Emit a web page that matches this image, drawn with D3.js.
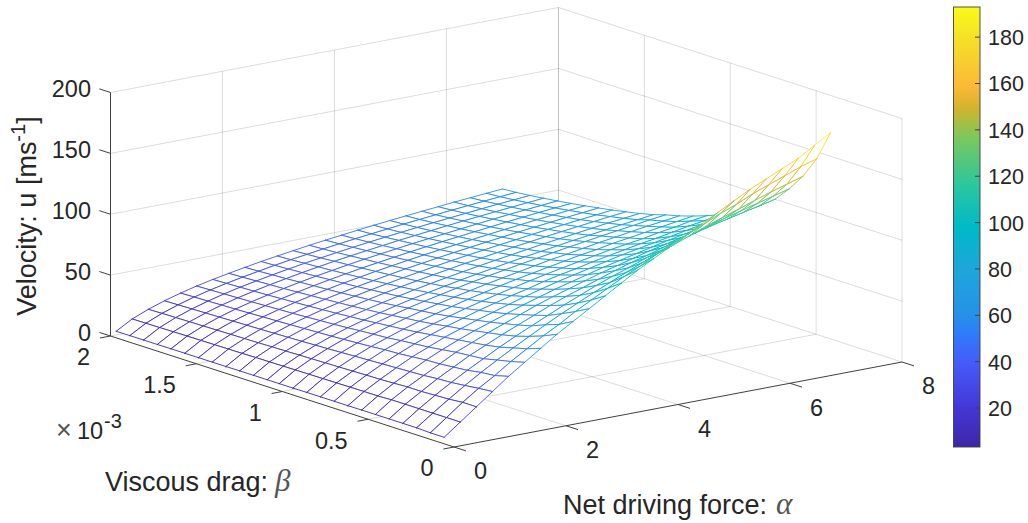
<!DOCTYPE html>
<html><head><meta charset="utf-8">
<script src="https://cdn.jsdelivr.net/npm/d3@7"></script>
<style>html,body{margin:0;background:#fff}svg{display:block}text{font-family:"Liberation Sans",Arial,sans-serif;fill:#262626}</style>
</head><body><svg id="c" width="1028" height="523"></svg>
<script>
// surface samples
const alphaValues=[0.1,0.3875,0.675,0.9625,1.25,1.5375,1.825,2.1125,2.4,2.6875,2.975,3.2625,3.55,3.8375,4.125,4.4125,4.7,4.9875,5.275,5.5625,5.85,6.1375,6.425,6.7125,7];
const betaValues=[0.09,0.17,0.25,0.33,0.41,0.49,0.57,0.65,0.73,0.81,0.89,0.97,1.05,1.12,1.20,1.28,1.36,1.44,1.52,1.60,1.68,1.76,1.84,1.92,2.0];
const velocityRows=[
[3,13,23,33,43,52,61,70,78,86,94,102,110,117,124,131,138,145,152,159,165,171,177,185,193],
[3,13,23,32,40,49,57,65,72,80,87,94,101,107,114,120,126,132,138,143,149,154,159,164,168],
[3.5,13,22,30.7,38.9,46.6,54,61,68,74.6,80.8,86.9,92.6,98.3,103.8,109,114,119,124,128.7,133,137.7,142,146,150],
[3.5,13,21.5,29.5,37,44,51,57.5,63.5,69.5,75.5,81,86.5,91.5,96,101,105,110,114,118,122,125.5,129,132.5,136],
[3.5,13,21,29,36,43,49,55,60.5,66,71.5,76.5,81,85.5,90,94,97.5,101.5,105,108.5,112,115,118,121,124],
[3.5,13,21,28,35,42,47.5,53,58,63,68,72.5,76.5,80.5,84.5,88,91.5,95,98,101,104.5,107.5,110,113,115.5],
[3.5,12.5,20.5,27.5,34.5,40.5,46,51,55.5,60,64.5,68.5,72.5,76,79.5,83,86,89,92,95,97.5,100,103,105.5,108],
[3.4,12.5,20,27,33.5,39,44.5,49,53.5,57.5,61.5,65.5,69,72.5,75.5,78.5,81.5,84.5,87,89.5,92,94.5,97,99.5,102],
[3.4,12.4,19.8,26.5,32.5,38,43,47.5,51.5,55.5,59,62.5,65.5,69,72,74.5,77.5,80,82.5,85,87,89.5,92,94,96.5],
[3.4,12.3,19.5,26,32,37,41.5,45.7,49.5,53.3,56.7,60,63,66,68.8,71.5,74,76.5,79,81,83,85.5,87.5,90,92],
[3.4,12.2,19.2,25.5,31,35.7,40.2,44.2,47.8,51.3,54.7,57.7,60.7,63.5,66,68.6,71,73.5,75.5,78,80,82,84,86,88],
[3.3,12.1,19,25,30.3,35,39.2,43,46.5,49.8,52.8,55.7,58.5,61,63.5,66,68.5,70.5,72.8,75,77,79,81,82.7,84.5],
[3.3,12,18.7,24.5,29.6,34.2,38.2,41.8,45.2,48.3,51.2,54,56.7,59.2,61.5,63.8,66,68.2,70.3,72.3,74.3,76.2,78,80,81.7],
[3.3,11.9,18.5,24.1,29,33.4,37.2,40.7,44,47,49.8,52.4,55,57.3,59.6,61.9,64,66,68,70,71.8,73.6,75.4,77,78.7],
[3.3,11.8,18.2,23.7,28.5,32.6,36.4,39.7,42.8,45.7,48.4,51,53.4,55.7,57.9,60,62,64,66,67.7,69.5,71.3,73,74.5,76],
[3.3,11.7,18,23.3,28,32,35.5,38.8,41.8,44.6,47.2,49.6,52,54.2,56.4,58.3,60.3,62.2,64,65.8,67.5,69.1,70.7,72.3,73.7],
[3.2,11.5,17.7,23,27.5,31.3,34.8,38,40.9,43.6,46.1,48.5,50.7,52.9,55,56.9,58.7,60.5,62.2,64,65.6,67.1,68.6,70,71.5],
[3.2,11.4,17.5,22.6,27,30.7,34.1,37.2,40,42.6,45,47.4,49.6,51.6,53.6,55.5,57.2,59,60.6,62.3,63.8,65.3,66.8,68.2,69.6],
[3.2,11.3,17.3,22.3,26.6,30.2,33.5,36.5,39.2,41.8,44.1,46.4,48.5,50.5,52.4,54.2,55.9,57.5,59.2,60.7,62.2,63.7,65.1,66.4,67.7],
[3.2,11.2,17.1,22,26.1,29.7,32.9,35.8,38.5,41,43.3,45.5,47.5,49.4,51.3,53,54.7,56.2,57.8,59.3,60.8,62.2,63.6,64.8,66],
[3.2,11.1,16.9,21.7,25.7,29.2,32.3,35.1,37.8,40.2,42.4,44.6,46.6,48.4,50.2,51.9,53.5,55,56.5,58,59.4,60.8,62,63.2,64.4],
[3.1,11,16.7,21.4,25.4,28.8,31.8,34.6,37.1,39.5,41.7,43.8,45.7,47.5,49.2,50.9,52.4,53.9,55.4,56.8,58.1,59.4,60.6,61.8,63],
[3.1,10.8,16.5,21.1,25,28.4,31.4,34,36.5,38.8,41,42.9,44.8,46.6,48.3,49.9,51.4,52.9,54.3,55.6,56.9,58.2,59.4,60.5,61.6],
[3.1,10.7,16.3,20.8,24.7,28,30.9,33.5,35.9,38.2,40.3,42.2,44.1,45.8,47.5,49,50.5,52,53.3,54.6,55.9,57.1,58.3,59.4,60.5],
[3,10.6,16,20.5,24.3,27.6,30.5,33,35.4,37.7,39.7,41.6,43.5,45.2,46.8,48.4,49.9,51.3,52.6,53.9,55.1,56.4,57.5,58.6,59.7]];
const alphaTicks=[0,2,4,6,8];
const betaTicks=[0,0.5,1,1.5,2];
const betaTickLabels=["0","0.5","1","1.5","2"];
const zTicks=[0,50,100,150,200];
const barTicks=[20,40,60,80,100,120,140,160,180];
const colorDomain=[3.2,193];
const colorStops=[[0,"#3e26a8"],[0.09,"#4437d7"],[0.19,"#465afa"],[0.26,"#2d7dfa"],[0.3,"#2691e8"],[0.4,"#1ea5dc"],[0.5,"#00b9c8"],[0.6,"#2dc89b"],[0.7,"#78c85f"],[0.77,"#d2b42d"],[0.82,"#fcb937"],[0.93,"#f5e128"],[1,"#f9fb15"]];

const svg=d3.select("#c");
const O=[454,447];
const ax=d3.scaleLinear().domain([0,8]).range([0,448]);
const ay=d3.scaleLinear().domain([0,8]).range([0,-85]);
const bx=d3.scaleLinear().domain([0,2]).range([0,-343.5]);
const by=d3.scaleLinear().domain([0,2]).range([0,-111]);
const zy=d3.scaleLinear().domain([0,200]).range([0,-243.5]);
const P=(a,b,z)=>[O[0]+ax(a)+bx(b),O[1]+ay(a)+by(b)+zy(z)];
const t=d3.scaleLinear().domain(colorDomain).range([0,1]);
const ramp=d3.scaleLinear().domain(colorStops.map(d=>d[0])).range(colorStops.map(d=>d[1])).interpolate(d3.interpolateRgb).clamp(true);
const color=v=>ramp(t(v));

const grid="rgba(38,38,38,0.16)";
const gG=svg.append("g").attr("stroke",grid).attr("stroke-width",1).attr("fill","none");
const L=(g,p,q)=>g.append("line").attr("x1",p[0]).attr("y1",p[1]).attr("x2",q[0]).attr("y2",q[1]);
// floor
alphaTicks.slice(1).forEach(a=>L(gG,P(a,0,0),P(a,2,0)));
betaTicks.slice(1).forEach(b=>L(gG,P(0,b,0),P(8,b,0)));
// walls
alphaTicks.slice(1).forEach(a=>L(gG,P(a,2,0),P(a,2,200)));
betaTicks.forEach(b=>L(gG,P(8,b,0),P(8,b,200)));
zTicks.slice(1).forEach(z=>{L(gG,P(0,2,z),P(8,2,z));L(gG,P(8,2,z),P(8,0,z));});

// surface: far quads first so the white faces hide what lies behind
const quads=[];
for(let j=0;j<betaValues.length-1;j++)for(let i=0;i<alphaValues.length-1;i++){
  quads.push({i,j,d:ay(alphaValues[i])+by(betaValues[j])});
}
quads.sort((p,q)=>p.d-q.d);
const gS=svg.append("g").attr("fill","none").attr("stroke-width",1).attr("stroke-linecap","round").attr("stroke-opacity",0.9);
quads.forEach(q=>{
  const c=[[q.i,q.j],[q.i+1,q.j],[q.i+1,q.j+1],[q.i,q.j+1]];
  const pts=c.map(([i,j])=>P(alphaValues[i],betaValues[j],velocityRows[j][i]));
  const vals=c.map(([i,j])=>velocityRows[j][i]);
  gS.append("path").attr("d","M"+pts.join("L")+"Z").attr("fill","#fff").attr("stroke","none");
  for(let k=0;k<4;k++){
    const n=(k+1)%4;
    L(gS,pts[k],pts[n]).attr("stroke",color((vals[k]+vals[n])/2));
  }
});

// axes
const axG=svg.append("g").attr("stroke","#404040").attr("stroke-width",1).attr("fill","none");
L(axG,P(0,2,0),P(0,2,200));
L(axG,P(0,0,0),P(0,2,0));
L(axG,P(0,0,0),P(8,0,0));
zTicks.forEach(z=>{const p=P(0,2,z);L(axG,p,[p[0]+bx(0.065),p[1]+by(0.065)]);});
betaTicks.forEach(b=>{const p=P(0,b,0);L(axG,p,[p[0]-ax(0.19),p[1]-ay(0.19)]);});
alphaTicks.forEach(a=>{const p=P(a,0,0);L(axG,p,[p[0]-bx(0.07),p[1]-by(0.07)]);});

const fs=23.5;
const tx=svg.append("g").attr("font-size",fs);
zTicks.forEach(z=>{const p=P(0,2,z);tx.append("text").attr("x",91).attr("y",p[1]-3.5).attr("dy","0.36em").attr("text-anchor","end").text(z);});
alphaTicks.forEach(a=>{const p=P(a,0,0);tx.append("text").attr("x",p[0]+26.5).attr("y",p[1]+24).attr("dy","0.36em").attr("text-anchor","middle").text(a);});
betaTicks.forEach((b,k)=>{const p=P(0,b,0);tx.append("text").attr("x",p[0]-20.5).attr("y",p[1]+21).attr("dy","0.36em").attr("text-anchor","end").text(betaTickLabels[k]);});

// exponent
const ex=svg.append("text").attr("x",56).attr("y",439).attr("font-size",23.5);
ex.append("tspan").attr("font-size",27).attr("font-weight",300).attr("fill","#555").text("×");
ex.append("tspan").attr("x",77).text("10");
ex.append("tspan").attr("x",104).attr("dy",-11).attr("font-size",20).text("-3");

// axis labels
const labelFs=27;
const vl=svg.append("text").attr("transform","translate(36,216) rotate(-90)").attr("text-anchor","middle").attr("font-size",labelFs);
vl.append("tspan").text("Velocity: u [ms");
vl.append("tspan").attr("dy",-11).attr("font-size",20).text("-1");
vl.append("tspan").attr("dy",11).text("]");
const greek=(x,y,prefix,g,gx)=>{const e=svg.append("text").attr("x",x).attr("y",y).attr("font-size",labelFs);
  e.append("tspan").text(prefix);
  e.append("tspan").attr("x",gx).attr("font-size",31).attr("font-family","'Liberation Serif',serif").attr("font-style","italic").attr("fill","#555").text(g);};
greek(563,514,"Net driving force:","α",776);
greek(105,491,"Viscous drag:","β",275);

// colorbar
const barY=d3.scaleLinear().domain(colorDomain).range([447,7]);
const barX=[953.5,980];
const defs=svg.append("defs");
const lg=defs.append("linearGradient").attr("id","pb").attr("x1",0).attr("x2",0).attr("y1",1).attr("y2",0);
colorStops.forEach(s=>lg.append("stop").attr("offset",s[0]).attr("stop-color",s[1]));
svg.append("rect").attr("x",barX[0]).attr("y",barY(colorDomain[1])).attr("width",barX[1]-barX[0]).attr("height",barY(colorDomain[0])-barY(colorDomain[1])).attr("fill","url(#pb)").attr("stroke","#404040").attr("stroke-width",0.9);
const bT=svg.append("g");
barTicks.forEach(v=>{
  bT.append("line").attr("x1",barX[1]-5).attr("x2",barX[1]).attr("y1",barY(v)).attr("y2",barY(v)).attr("stroke","#404040");
  bT.append("text").attr("x",988).attr("y",barY(v)).attr("dy","0.37em").attr("font-size",21.5).text(v);
});
</script></body></html>
